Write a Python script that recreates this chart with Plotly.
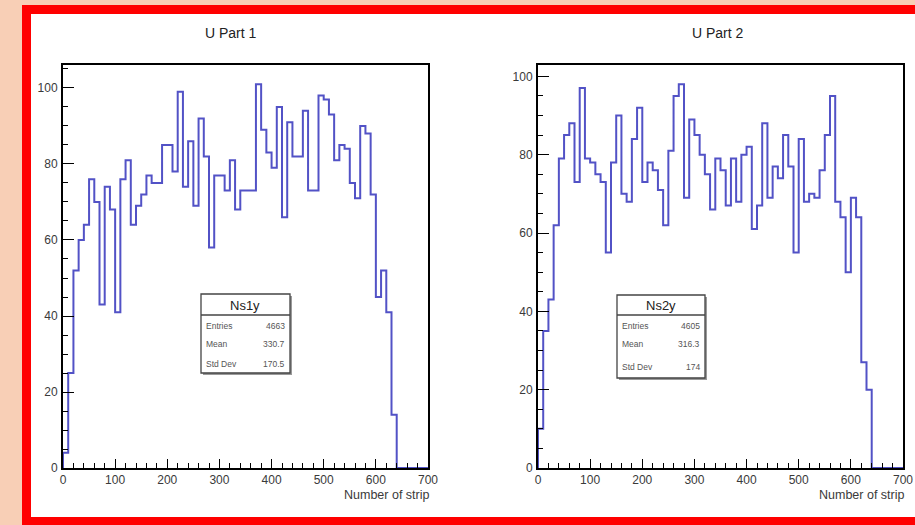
import numpy as np
import plotly.graph_objects as go

# Strip-occupancy histograms, 70 bins of 10 strips over 0-700
bin_width = 10
n_bins = 70

ns1y_counts = [
    4, 25, 52, 60, 64, 76, 70, 43, 74, 68,
    41, 76, 81, 64, 69, 72, 77, 75, 75, 85,
    85, 78, 99, 74, 86, 69, 92, 82, 58, 77,
    77, 73, 81, 68, 73, 73, 73, 101, 89, 83,
    79, 95, 66, 91, 82, 82, 94, 73, 73, 98,
    97, 93, 81, 85, 84, 75, 71, 90, 88, 72,
    45, 52, 41, 14, 0, 0, 0, 0, 0, 0,
]
ns2y_counts = [
    10, 35, 43, 62, 79, 85, 88, 73, 97, 79,
    78, 75, 73, 55, 78, 90, 70, 68, 84, 92,
    73, 78, 76, 71, 62, 81, 95, 98, 69, 89,
    85, 80, 75, 66, 79, 76, 67, 79, 68, 80,
    82, 61, 67, 88, 69, 77, 74, 85, 77, 55,
    84, 68, 70, 69, 76, 85, 95, 68, 64, 50,
    69, 64, 27, 20, 0, 0, 0, 0, 0, 0,
]

titles = ["U Part 1", "U Part 2"]
stat_names = ["Ns1y", "Ns2y"]
stat_labels = ["Entries", "Mean", "Std Dev"]
ns1y_stats = ["4663", "330.7", "170.5"]
ns2y_stats = ["4605", "316.3", "174"]
x_title = "Number of strip"
x_ticks = [0, 100, 200, 300, 400, 500, 600, 700]
y_ticks = [0, 20, 40, 60, 80, 100]

W, H = 915, 525
FONT = "Liberation Sans, Arial, Helvetica, sans-serif"
HIST_COLOR = "#5252c6"
TEXT_COLOR = "#3a3a3a"


def px(x):
    return x / W


def py(y):
    return 1 - y / H


edges = np.arange(n_bins + 1) * bin_width


def step_xy(counts):
    # ROOT-like outline: rise from zero at the first edge, flat top per bin
    xs = [0.0] + list(edges[:-1]) + [edges[-1]]
    ys = [0.0] + list(counts) + [counts[-1]]
    return xs, ys


fig = go.Figure()
for i, counts in enumerate([ns1y_counts, ns2y_counts]):
    xs, ys = step_xy(counts)
    suffix = "" if i == 0 else "2"
    fig.add_trace(go.Scatter(
        x=xs, y=ys, mode="lines", line=dict(color=HIST_COLOR, width=2, shape="hv"),
        xaxis="x" + suffix, yaxis="y" + suffix, showlegend=False, hoverinfo="skip",
    ))

# plot frames in pixels: left/right edges, shared top/bottom
frames = [(63, 428), (538, 903)]
frame_top, frame_bottom = 65, 468
y_max = [1.05 * max(ns1y_counts), 1.05 * max(ns2y_counts)]

common_x = dict(
    range=[0, 700], tickvals=x_ticks, ticks="inside", ticklen=9, tickwidth=1.2,
    tickcolor="black", showline=True, linecolor="black", linewidth=2, mirror=True,
    showgrid=False, zeroline=False, tickfont=dict(family=FONT, size=12, color=TEXT_COLOR),
    minor=dict(ticks="inside", ticklen=5, dtick=20, tickcolor="black", tickwidth=1.2, showgrid=False),
    fixedrange=True, automargin=False,
)
common_y = dict(
    tickvals=y_ticks, ticks="inside", ticklen=11, tickwidth=1.2,
    tickcolor="black", showline=True, linecolor="black", linewidth=2, mirror=True,
    showgrid=False, zeroline=False, tickfont=dict(family=FONT, size=12, color=TEXT_COLOR),
    minor=dict(ticks="inside", ticklen=5, dtick=5, tickcolor="black", tickwidth=1.2, showgrid=False),
    ticklabelstandoff=1, fixedrange=True, automargin=False,
)

ydom = [py(frame_bottom), py(frame_top)]
fig.update_layout(
    xaxis=dict(common_x, domain=[px(frames[0][0]), px(frames[0][1])], anchor="y"),
    yaxis=dict(common_y, domain=ydom, range=[0, y_max[0]], anchor="x"),
    xaxis2=dict(common_x, domain=[px(frames[1][0]), px(frames[1][1])], anchor="y2"),
    yaxis2=dict(common_y, domain=ydom, range=[0, y_max[1]], anchor="x2"),
)

shapes = []
# red frame (open on the right) around the white canvas
shapes.append(dict(type="rect", xref="paper", yref="paper", layer="below",
                   x0=px(22), x1=px(W + 40), y0=py(5), y1=py(H + 20),
                   line=dict(width=0), fillcolor="#ff0000"))
shapes.append(dict(type="rect", xref="paper", yref="paper", layer="below",
                   x0=px(31), x1=px(W + 40), y0=py(14), y1=py(517),
                   line=dict(width=0), fillcolor="white"))

annotations = []
title_x = [231, 718]
for i in range(2):
    annotations.append(dict(text=titles[i], x=px(title_x[i]), y=py(33), xref="paper", yref="paper",
                            showarrow=False, xanchor="center", yanchor="middle",
                            font=dict(family=FONT, size=14, color="#222")))
    annotations.append(dict(text=x_title, x=px(frames[i][1] + 3), y=py(495), xref="paper", yref="paper",
                            showarrow=False, xanchor="right", yanchor="middle",
                            font=dict(family=FONT, size=12.5, color=TEXT_COLOR)))

# statistics boxes
boxes = [
    dict(x0=201, x1=290, y0=294, y1=373, head=315, rows=[326, 344, 364], vals=ns1y_stats),
    dict(x0=617, x1=705, y0=295, y1=378, head=315, rows=[326, 344, 367], vals=ns2y_stats),
]
for i, b in enumerate(boxes):
    shapes.append(dict(type="rect", xref="paper", yref="paper",
                       x0=px(b["x0"] + 2), x1=px(b["x1"] + 2), y0=py(b["y0"] + 2), y1=py(b["y1"] + 2),
                       line=dict(width=0), fillcolor="#9a9a9a"))
    shapes.append(dict(type="rect", xref="paper", yref="paper",
                       x0=px(b["x0"]), x1=px(b["x1"]), y0=py(b["y0"]), y1=py(b["y1"]),
                       line=dict(color="#444", width=1.3), fillcolor="white"))
    shapes.append(dict(type="line", xref="paper", yref="paper",
                       x0=px(b["x0"]), x1=px(b["x1"]), y0=py(b["head"]), y1=py(b["head"]),
                       line=dict(color="#444", width=1.3)))
    annotations.append(dict(text=stat_names[i], x=px((b["x0"] + b["x1"]) / 2), y=py((b["y0"] + b["head"]) / 2 + 0.5),
                            xref="paper", yref="paper", showarrow=False, xanchor="center", yanchor="middle",
                            font=dict(family=FONT, size=13, color="#222")))
    for lab, val, ry in zip(stat_labels, b["vals"], b["rows"]):
        annotations.append(dict(text=lab, x=px(b["x0"] + 3), y=py(ry), xref="paper", yref="paper",
                                showarrow=False, xanchor="left", yanchor="middle",
                                font=dict(family=FONT, size=8.5, color="#555")))
        annotations.append(dict(text=val, x=px(b["x1"] - 3), y=py(ry), xref="paper", yref="paper",
                                showarrow=False, xanchor="right", yanchor="middle",
                                font=dict(family=FONT, size=8.5, color="#555")))

fig.update_layout(
    width=W, height=H, autosize=False,
    margin=dict(l=0, r=0, t=0, b=0, pad=0, autoexpand=False),
    paper_bgcolor="#f8cfb6", plot_bgcolor="rgba(0,0,0,0)",
    shapes=shapes, annotations=annotations, showlegend=False,
)

fig.write_html("out.html", config={"displayModeBar": False})
